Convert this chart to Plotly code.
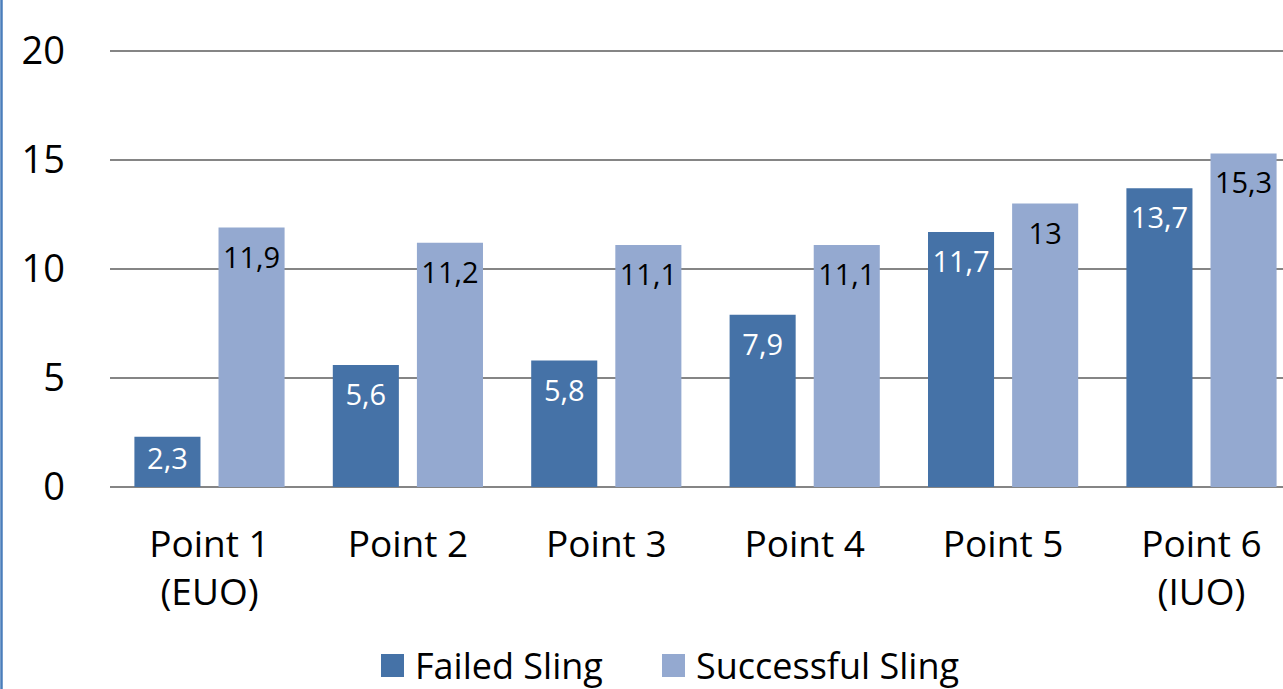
import plotly.graph_objects as go

categories = ["Point 1<br>(EUO)", "Point 2", "Point 3", "Point 4", "Point 5", "Point 6<br>(IUO)"]
failed = [2.3, 5.6, 5.8, 7.9, 11.7, 13.7]
successful = [11.9, 11.2, 11.1, 11.1, 13.0, 15.3]
series_names = ["Failed Sling", "Successful Sling"]
y_ticks = [0, 5, 10, 15, 20]

DARK = "#4572A7"
LIGHT = "#94A9D0"
FONT = "Open Sans"

W, H = 1283, 689
L, R, T, B = 110, 0, 45, 202
PW, PH = W - L - R, H - T - B
UNIT = 21.8
YTOP = 20 + (51 - T) / UNIT

idx = list(range(len(categories)))
off = 0.212
bw = 0.333

def fmt(v):
    s = f"{v:.1f}".replace(".", ",")
    return s[:-2] if s.endswith(",0") else s

def label_y(v):
    return v - min(1.5, v / 2)

fig = go.Figure()
fig.add_trace(go.Bar(x=[i - off for i in idx], y=failed, width=bw, name=series_names[0],
                     marker=dict(color=DARK, line=dict(width=0)), showlegend=False, hoverinfo="y"))
fig.add_trace(go.Bar(x=[i + off for i in idx], y=successful, width=bw, name=series_names[1],
                     marker=dict(color=LIGHT, line=dict(width=0)), showlegend=False, hoverinfo="y"))
fig.add_trace(go.Scatter(x=[i - off for i in idx], y=[label_y(v) for v in failed], mode="text",
                         text=[fmt(v) for v in failed], textposition="middle center",
                         textfont=dict(family=FONT, size=29, color="white"),
                         showlegend=False, hoverinfo="skip"))
fig.add_trace(go.Scatter(x=[i + off for i in idx], y=[label_y(v) for v in successful], mode="text",
                         text=[fmt(v) for v in successful], textposition="middle center",
                         textfont=dict(family=FONT, size=29, color="black"),
                         showlegend=False, hoverinfo="skip"))

def px_x(p):
    return (p - L) / PW

def px_y(p):
    return (H - B - p) / PH

shapes = [
    dict(type="line", xref="paper", yref="paper", x0=px_x(1.5), x1=px_x(1.5), y0=px_y(-5), y1=px_y(H + 5),
         line=dict(color="#4A7EBB", width=2.5)),
]
annotations = []
legend_items = [(series_names[0], DARK, 381), (series_names[1], LIGHT, 662)]
for name, col, sx in legend_items:
    shapes.append(dict(type="rect", xref="paper", yref="paper", x0=px_x(sx), x1=px_x(sx + 23),
                       y0=px_y(677), y1=px_y(654), fillcolor=col, line=dict(width=0)))
    annotations.append(dict(xref="paper", yref="paper", x=px_x(sx + 32), y=px_y(665), text=name,
                            showarrow=False, xanchor="left", yanchor="middle",
                            font=dict(family=FONT, size=36, color="black")))

fig.update_layout(
    width=W, height=H,
    margin=dict(l=L, r=R, t=T, b=B),
    paper_bgcolor="white", plot_bgcolor="white",
    barmode="overlay",
    font=dict(family=FONT, color="black"),
    showlegend=False,
    shapes=shapes,
    annotations=annotations,
    xaxis=dict(range=[-0.5015, (W - R - L) / 198.4 - 0.5015], tickvals=idx, ticktext=categories,
               showgrid=False, zeroline=False, showline=False, ticks="",
               tickfont=dict(family=FONT, size=37, color="black"), ticklabelstandoff=32),
    yaxis=dict(range=[0, YTOP], tickvals=y_ticks, showgrid=True, gridcolor="#858585", gridwidth=2,
               zeroline=True, zerolinecolor="#858585", zerolinewidth=2, showline=False, ticks="",
               tickfont=dict(family=FONT, size=38, color="black"), ticklabelstandoff=44),
)

fig.write_html("out.html", config={"displayModeBar": False},
               post_script="document.body.style.margin='0';document.body.style.overflow='hidden';")
